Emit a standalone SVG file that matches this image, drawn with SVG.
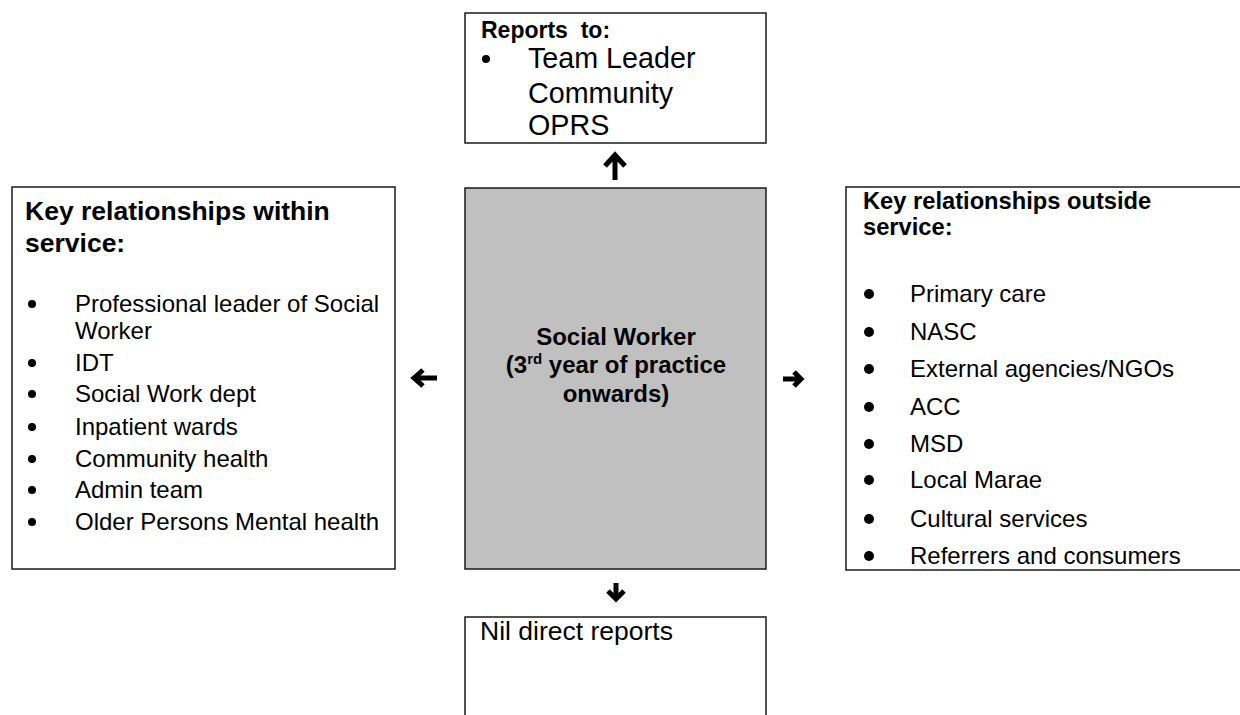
<svg xmlns="http://www.w3.org/2000/svg" width="1240" height="715" viewBox="0 0 1240 715">
  <style>
    .box { fill: #ffffff; stroke: #1a1a1a; stroke-width: 1.5; }
    .core { fill: #c0c0c0; stroke: #1a1a1a; stroke-width: 1.5; }
    text { font-family: "Liberation Sans", Arial, sans-serif; fill: #000000; }
    .head { font-weight: bold; }
    .item { font-size: 24px; }
    .dot { fill: #000000; }
    .arrow { fill: none; stroke: #000000; stroke-width: 5; stroke-linejoin: miter; stroke-linecap: butt; }
  </style>

  <!-- Reports to -->
  <g id="node-reports-to">
    <rect class="box" x="465" y="13" width="301" height="130"/>
    <text class="head" x="481" y="38" font-size="23" xml:space="preserve">Reports  to:</text>
    <circle class="dot" cx="486" cy="59" r="4"/>
    <text x="528" y="68" font-size="28.7">Team Leader</text>
    <text x="528" y="103" font-size="28.7">Community</text>
    <text x="528" y="135" font-size="28.7">OPRS</text>
  </g>

  <!-- Key relationships within service -->
  <g id="node-within-service">
    <rect class="box" x="12" y="187" width="383" height="382"/>
    <text class="head" x="25" y="220" font-size="26.5">Key relationships within</text>
    <text class="head" x="25" y="252" font-size="26.5">service:</text>
    <circle class="dot" cx="32" cy="304" r="4"/>
    <text class="item" x="75" y="312">Professional leader of Social</text>
    <text class="item" x="75" y="339">Worker</text>
    <circle class="dot" cx="32" cy="363" r="4"/>
    <text class="item" x="75" y="371">IDT</text>
    <circle class="dot" cx="32" cy="394" r="4"/>
    <text class="item" x="75" y="402">Social Work dept</text>
    <circle class="dot" cx="32" cy="427" r="4"/>
    <text class="item" x="75" y="435">Inpatient wards</text>
    <circle class="dot" cx="32" cy="459" r="4"/>
    <text class="item" x="75" y="467">Community health</text>
    <circle class="dot" cx="32" cy="490" r="4"/>
    <text class="item" x="75" y="498">Admin team</text>
    <circle class="dot" cx="32" cy="522" r="4"/>
    <text class="item" x="75" y="530">Older Persons Mental health</text>
  </g>

  <!-- Central role -->
  <g id="node-social-worker">
    <rect class="core" x="465" y="188" width="301" height="381"/>
    <text class="head" x="616" y="345" font-size="24" text-anchor="middle">Social Worker</text>
    <text class="head" x="616" y="373" font-size="24" text-anchor="middle">(3<tspan font-size="15" dy="-9">rd</tspan><tspan dy="9"> year of practice</tspan></text>
    <text class="head" x="616" y="402" font-size="24" text-anchor="middle">onwards)</text>
  </g>

  <!-- Key relationships outside service -->
  <g id="node-outside-service">
    <rect class="box" x="846" y="187" width="420" height="383"/>
    <text class="head" x="863" y="209" font-size="23.7">Key relationships outside</text>
    <text class="head" x="863" y="235" font-size="23.7">service:</text>
    <circle class="dot" cx="869" cy="294" r="5"/>
    <text class="item" x="910" y="302">Primary care</text>
    <circle class="dot" cx="869" cy="332" r="5"/>
    <text class="item" x="910" y="340">NASC</text>
    <circle class="dot" cx="869" cy="369" r="5"/>
    <text class="item" x="910" y="377">External agencies/NGOs</text>
    <circle class="dot" cx="869" cy="407" r="5"/>
    <text class="item" x="910" y="415">ACC</text>
    <circle class="dot" cx="869" cy="444" r="5"/>
    <text class="item" x="910" y="452">MSD</text>
    <circle class="dot" cx="869" cy="480" r="5"/>
    <text class="item" x="910" y="488">Local Marae</text>
    <circle class="dot" cx="869" cy="519" r="5"/>
    <text class="item" x="910" y="527">Cultural services</text>
    <circle class="dot" cx="869" cy="556" r="5"/>
    <text class="item" x="910" y="564">Referrers and consumers</text>
  </g>

  <!-- Direct reports -->
  <g id="node-direct-reports">
    <rect class="box" x="465" y="617" width="301" height="120"/>
    <text x="480" y="640" font-size="26.5">Nil direct reports</text>
  </g>

  <!-- Arrows between the role and the surrounding boxes -->
  <g id="connectors">
    <path class="arrow" d="M615 180 V156 M605 166 L615 155 L625 166"/>
    <path class="arrow" d="M616 583 V598 M608 591 L616 599 L624 591"/>
    <path class="arrow" d="M437 378 H415 M423 370 L414 378 L423 386"/>
    <path class="arrow" d="M783 379 H800 M794 372 L801 379 L794 386"/>
  </g>
</svg>
